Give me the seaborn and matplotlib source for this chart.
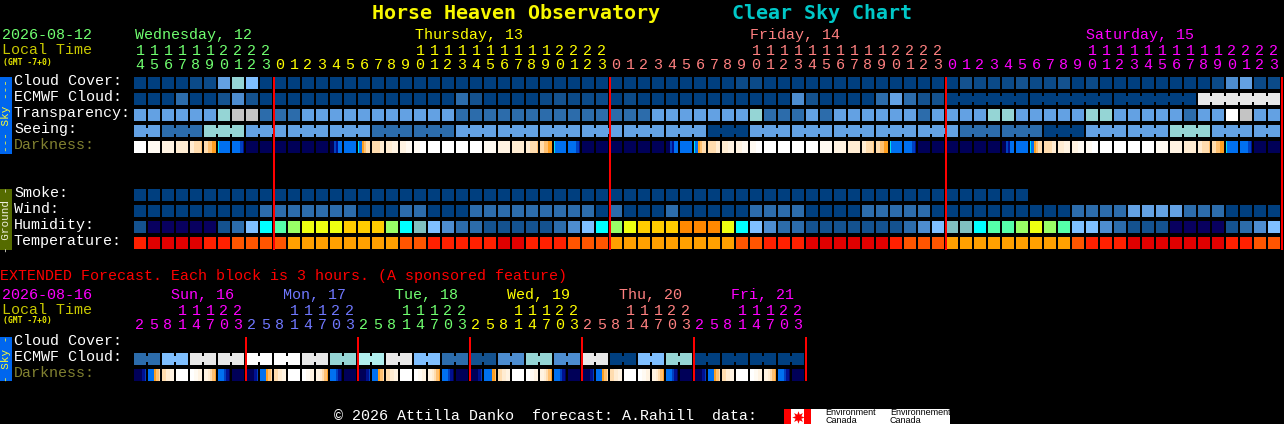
import numpy as np
import matplotlib
matplotlib.use("Agg")
import matplotlib.pyplot as plt
from matplotlib.colors import ListedColormap
from matplotlib.patches import Rectangle
from matplotlib.lines import Line2D
import seaborn as sns

W, H = 1284, 424
MONO = "Liberation Mono"
BOLD = "DejaVu Sans Mono"

# ---------- colour codes ----------
PALETTE = {
    "A": "#003f7f", "B": "#0b4a88", "C": "#14528f", "D": "#2c6cab", "E": "#4d8dd0",
    "F": "#63a1e3", "G": "#7fbfff", "H": "#95d5d5", "O": "#b0eeee", "I": "#c4c4c4",
    "J": "#e8e8e8", "K": "#ffffff",
    "N": "#08005f", "Y": "#00ffff", "M": "#55ffaa", "L": "#99ff66", "X": "#eeff11",
    "P": "#ffcc00", "Q": "#ff8800", "Z": "#80c0c0",
    "R": "#e00000", "S": "#ff2000", "T": "#ff5500", "U": "#ffa000",
    "W": "#ffffff", "v": "#fffaf2", "u": "#fff3e2", "t": "#ffecd2", "s": "#ffdcae",
    "r": "#ffc070", "q": "#ff9f20", "y": "#00e0f0", "b": "#0070f0", "m": "#0040c0",
    "n": "#001090", "k": "#000058",
}

# ---------- 82 hourly columns ----------
hours = [14, 15, 16, 17, 18, 19, 20, 21, 22, 23] + list(range(24)) * 3
day_colors = ["#70ff70"] * 10 + ["#ffff00"] * 24 + ["#ff8080"] * 24 + ["#ff00ff"] * 24

cloud = "AAAABBFHGA" + "A" * 24 + "AAAAAAAAABBAAAAAAAAAAAAA" + "ACBBBCBBCABAAAAAAAABEFBB"
ecmwf = "AAADAACECA" + "AAAAAAAAAAAAADCAAAABCBBB" + "ABAAAAAAAAAAAECAAAADFDCC" + "A" * 18 + "J" * 6
transp = "FFFFFFHIID" + "DDFFFFFFFFFFFDDDDDDDDDDD" + "DDDFFFFFFFHDDDFDFFFFFFDF" + "FFFHHFFFFFHHFFFFFDFFKIFF"
seeing_blocks = [2] + [3] * 26 + [2]
seeing_vals = "FDHFFFDDFFFFFFAFFFFFDDAFFHFF"
ecmwf_blocks = [1] * 58 + [6] * 4
smoke = "A" * 64 + "." * 18
wind = ("AAAAAAAAA" "DDDDDDD" "AAA" "DD" "AAA" "DDDDDDDDD" "A" "D" "AAA" "D" "AAAAA" "DDDD" "AAAA"
        "DDDDD" "AAAAAAAAAA" "DDDD" "FFFF" "DDD" "AAAA")
humidity = ("C" "NNNNN" "C" "D" "G" "Y" "M" "L" "XXX" "PPP" "L" "Y" "Z" "G" "E" "DD" "CCCCC" "D" "E" "G" "Y"
            "L" "X" "PPP" "QQQ" "X" "Y" "G" "E" "DD" "CCCCCCC" "D" "E" "G" "ZZ" "Y" "MM" "L" "X" "L" "M"
            "GG" "E" "D" "CCC" "NNNN" "C" "D" "E" "G")
temperature = ("S" "RRRR" "SS" "TTTT" "UUUUUUUU" "TT" "SSSSS" "RR" "SSS" "TTT" "UUUUUUUUU" "TT" "SSS"
               "RRRRRR" "S" "TTT" "UUUUUUUUU" "T" "SSS" "RRRRRRR" "SS" "TT")
darkness_wed = "WWWWWW vvvvvv uuuuuu tttttt ttsssr ssrrqq ybbbbb bbbbmn kkkkkk kkkkkk"
darkness_thu = ("kkkkkk kkkkkk kkkkkk kkkkkk kkmnbb bbbbbb ybqrss sssstt tttuuu uuuvvv vvvWWW WWWWWW "
                "WWWWWW WWWWWW WWWWWW vvvvvv uuuuuu tttttt ttsssr ssrrqq ybbbbb bbbbmn kkkkkk kkkkkk")
darkness_fri = ("kkkkkk kkkkkk kkkkkk kkkkkk kkmnbb bbbbbb ybqrss sssstt tttuuu uuuvvv vvvWWW WWWWWW "
                "WWWWWW WWWWWW WWWWWW vvvvvv uuuuuu tttttt ttsssr ssrrqq ybbbbb bbbbmn kkkkkk kkkkkk")
darkness_sat = ("kkkkkk kkkkkk kkkkkk kkkkkk kkmnbb bbbbbb ybqrss sssstt tttuuu uuuvvv vvvWWW WWWWWW "
                "WWWWWW WWWWWW WWWWWW vvvvvv uuuuuu tttttt ttsssr ssrrqq ybbbbb bbbbmn kkkkkk kkkkkk")

# ---------- 48 three-hour columns ----------
ext_hours = [2, 5, 8, 11, 14, 17, 20, 23] * 6
ext_colors = ["#ff00ff"] * 8 + ["#7078ff"] * 8 + ["#70ff70"] * 8 + ["#ffff00"] * 8 + ["#ff8080"] * 8 + ["#ff00ff"] * 8
ext_ecmwf_vals = "DGJJKKJHOJGDCEHEJAGHAAAA"
ext_blocks = [2] * 24
ext_dark = ("kkkknm bbbqrs ssttuu WWWWWW WWvvuu uutsrq bbbmnk kkkkkk "
            "kkkknm bbbqrs ssttuu WWWWWW WWvvuu uutsrq bbbmnk kkkkkk "
            "kkkknm bbbqrs ssttuu WWWWWW WWvvuu uutsrq bbbmnk kkkkkk "
            "kkkknm bbbbqr ssttuu WWWWWW WWvvuu uutsrq bbbmnk kkkkkk "
            "kkkknm bbbqrs ssttuu WWWWWW WWvvuu uutsrq bbbmnk kkkkkk "
            "kkkknm bbbqrs ssttuu WWWWWW WWvvuu uutsrq bbbmnk kkkkkk")

main_days = [10, 34, 58, 82]
ext_days = [8, 16, 24, 32, 40, 48]

labels_sky = ["Cloud Cover:", "ECMWF Cloud:", "Transparency:", "Seeing:"]
labels_ground = ["Smoke:", "Wind:", "Humidity:", "Temperature:"]
day_titles = [("Wednesday, 12", 135, "#70ff70"), ("Thursday, 13", 415, "#ffff00"),
              ("Friday, 14", 750, "#ff8080"), ("Saturday, 15", 1086, "#ff00ff")]
ext_titles = [("Sun, 16", 171, "#ff00ff"), ("Mon, 17", 283, "#7078ff"), ("Tue, 18", 395, "#70ff70"),
              ("Wed, 19", 507, "#ffff00"), ("Thu, 20", 619, "#ff8080"), ("Fri, 21", 731, "#ff00ff")]

# ---------- helpers ----------
codes = list(PALETTE)
cmap = ListedColormap([PALETTE[c] for c in codes])
SUB = 6


def row_from_cells(s):
    out = []
    for c in s:
        out.extend([c] * SUB)
    return out


def row_from_sub(s):
    return list(s.replace(" ", ""))


def to_matrix(rows):
    m = np.full((len(rows), len(rows[0])), np.nan)
    for i, r in enumerate(rows):
        for j, c in enumerate(r):
            if c != ".":
                m[i, j] = codes.index(c)
    return m


def draw_panel(rect, rows, n_cols, tick_hours, tick_colors, joins, day_ends, red_span):
    x0, y0, w, h = rect
    ax = fig.add_axes([x0 / W, 1 - (y0 + h) / H, w / W, h / H])
    ax.set_facecolor("black")
    m = to_matrix(rows)
    sns.heatmap(m, mask=np.isnan(m), cmap=cmap, vmin=-0.5, vmax=len(codes) - 0.5, cbar=False,
                ax=ax, xticklabels=False, yticklabels=False)
    nr = len(rows)
    # gaps between the blocks
    ax.vlines(np.arange(n_cols + 1) * SUB, 0, nr, color="black", lw=2 * 0.72, zorder=3, capstyle="butt")
    ax.hlines(np.arange(nr + 1), 0, n_cols * SUB, color="black", lw=4 * 0.72, zorder=3, capstyle="butt")
    # bridges joining blocks that share one forecast value
    for r, blocks in joins.items():
        edge = 0
        for size in blocks:
            for k in range(1, size):
                xb = (edge + k) * SUB
                ax.vlines(xb, r + 0.5 - 3 / 16, r + 0.5 + 3 / 16, color=PALETTE[rows[r][xb]],
                          lw=2 * 0.72, zorder=4, capstyle="butt")
            edge += size
    # hour digits as tick labels above the axes
    ax.set_xticks((np.arange(n_cols) + 0.5) * SUB)
    ax.set_xticklabels([(str(t // 10) if t >= 10 else "") + "\n" + str(t % 10) for t in tick_hours],
                       rotation=0)
    ax.tick_params(axis="x", top=True, bottom=False, labeltop=True, labelbottom=False, length=0, pad=2)
    for tick, c in zip(ax.xaxis.get_major_ticks(), tick_colors):
        lab = tick.label2
        lab.set_color(c)
        lab.set_fontsize(15 * 0.72)
        lab.set_family(MONO)
        lab.set_linespacing(1.03)
        lab.set_rotation(0)
    ax.set_yticks([])
    # day separators
    ax.vlines((np.array(day_ends) + 1 / 14) * SUB, red_span[0], red_span[1], color="#ff0000",
              lw=2 * 0.72, zorder=5, clip_on=False, capstyle="butt")
    for s in ax.spines.values():
        s.set_visible(False)
    return ax


def T(x, y, s, color="white", size=15, family=MONO, **kw):
    fig.text(x / W, 1 - y / H, s, color=color, fontsize=size * 0.72, family=family,
             ha=kw.pop("ha", "left"), va=kw.pop("va", "baseline"), **kw)


def box(x0, y0, x1, y1, color):
    fig.add_artist(Rectangle((x0 / W, 1 - y1 / H), (x1 - x0) / W, (y1 - y0) / H,
                             transform=fig.transFigure, facecolor=color, edgecolor="none"))


# ---------- figure ----------
sns.set_style("dark")
fig = plt.figure(figsize=(W / 100, H / 100), dpi=100, facecolor="black")

seeing = "".join(c * n for c, n in zip(seeing_vals, seeing_blocks))
main_rows = [
    row_from_cells(cloud),
    row_from_cells(ecmwf),
    row_from_cells(transp),
    row_from_cells(seeing),
    row_from_sub(darkness_wed + darkness_thu + darkness_fri + darkness_sat),
    ["."] * (82 * SUB),
    ["."] * (82 * SUB),
    row_from_cells(smoke),
    row_from_cells(wind),
    row_from_cells(humidity),
    row_from_cells(temperature),
]
draw_panel((133, 75, 14 * 82, 16 * 11), main_rows, 82, hours, day_colors,
           {1: ecmwf_blocks, 3: seeing_blocks}, main_days, (2 / 16, 175 / 16))

ext_ecmwf = "".join(c * n for c, n in zip(ext_ecmwf_vals, ext_blocks))
ext_rows = [
    ["."] * (48 * SUB),
    row_from_cells(ext_ecmwf),
    row_from_sub(ext_dark),
]
draw_panel((133, 335, 14 * 48, 16 * 3), ext_rows, 48, ext_hours, ext_colors,
           {1: ext_blocks}, ext_days, (2 / 16, 46 / 16))

# ---------- titles ----------
T(372, 19, "Horse Heaven Observatory", "#f8f800", 20, BOLD, fontweight="bold")
T(732, 19, "Clear Sky Chart", "#00c8c8", 20, BOLD, fontweight="bold")

T(2, 39, "2026-08-12", "#70ff70")
T(2, 54, "Local Time", "#c8c800")
T(3, 65, "(GMT -7+0)", "#e8e800", 8, BOLD, fontweight="bold")
for s, x, c in day_titles:
    T(x, 39, s, c)

for i, s in enumerate(labels_sky):
    T(14, 85 + 16 * i, s)
T(14, 149, "Darkness:", "#808030")
for i, s in enumerate(labels_ground):
    T(14, 197 + 16 * i, s)

T(0, 280, "EXTENDED Forecast. Each block is 3 hours. (A sponsored feature)", "#ff0000")
T(2, 299, "2026-08-16", "#ff00ff")
T(2, 314, "Local Time", "#c8c800")
T(3, 323, "(GMT -7+0)", "#e8e800", 8, BOLD, fontweight="bold")
for s, x, c in ext_titles:
    T(x, 299, s, c)
T(14, 345, "Cloud Cover:")
T(14, 361, "ECMWF Cloud:")
T(14, 377, "Darkness:", "#808030")

# ---------- side tags ----------
box(0, 77, 12, 154, "#0066ee")
box(0, 189, 12, 250, "#556b00")
box(0, 337, 12, 381, "#0066ee")
T(6, 115.5, "--- Sky ---", "#ffff30", 11, MONO, rotation=90, ha="center", va="center")
T(6, 219.5, "- Ground -", "#f0f0e0", 11, MONO, rotation=90, ha="center", va="center")
T(6, 359, "- Sky -", "#ffff30", 11, MONO, rotation=90, ha="center", va="center")

# ---------- footer ----------
T(334, 420, "\u00a9 2026 Attilla Danko  forecast: A.Rahill  data:", "white")
box(784, 409, 950, 424, "white")
box(784, 409, 791, 424, "#ff0000")
box(804, 409, 811, 424, "#ff0000")
fig.add_artist(Line2D([797.5 / W], [1 - 416.5 / H], marker=(8, 1, 0), ms=9, color="#ff0000",
                      mec="none", transform=fig.transFigure))
for x, s in [(825, "Environment"), (890, "Environnement")]:
    T(x, 415, s, "black", 9, "Liberation Sans")
    T(x, 423, "Canada", "black", 9, "Liberation Sans")

fig.savefig("out.png", dpi=100, facecolor="black")
